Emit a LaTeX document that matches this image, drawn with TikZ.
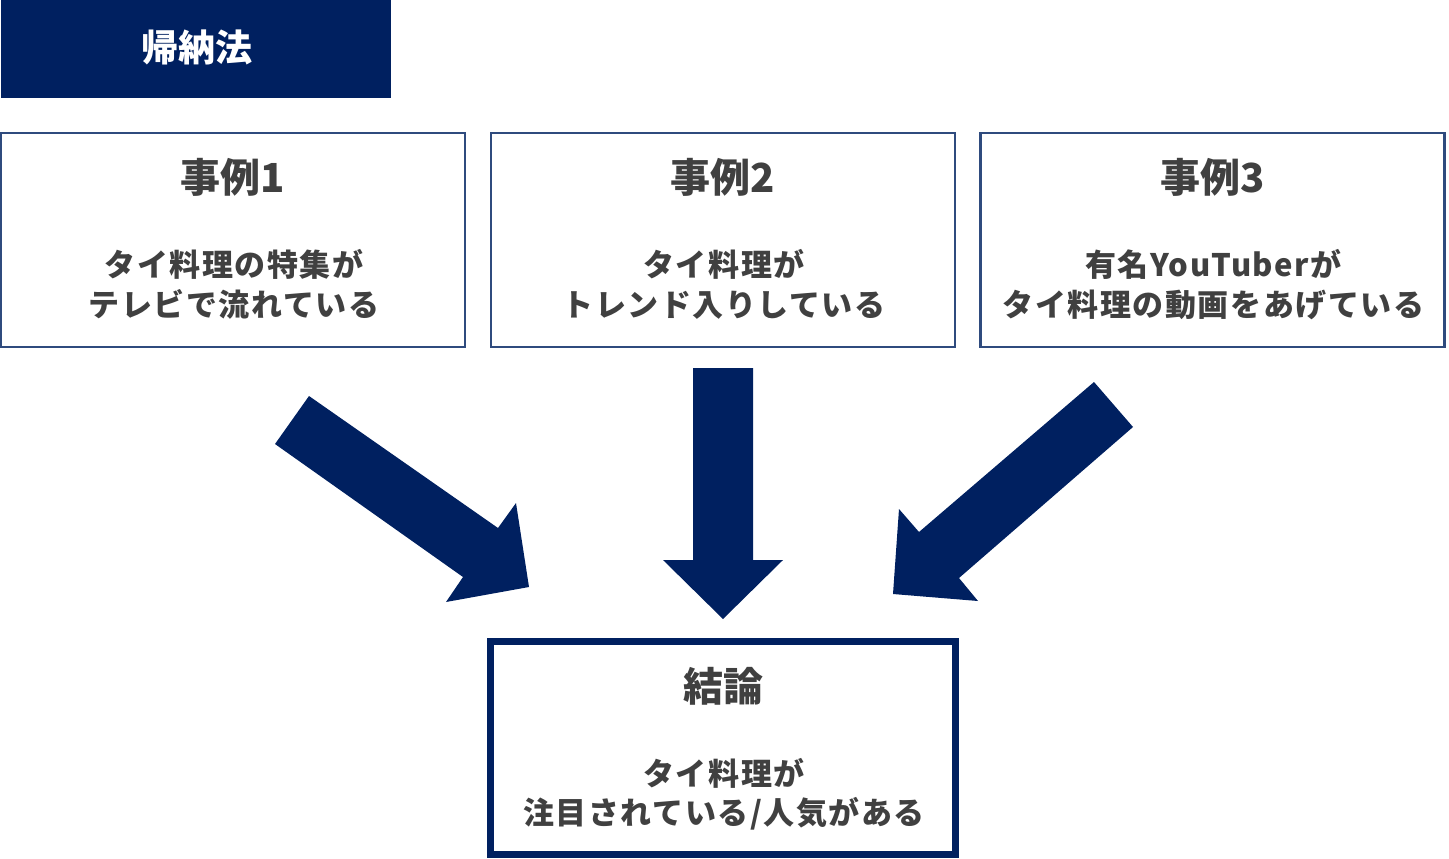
\documentclass[tikz,border=0pt]{standalone}
\usepackage{fontspec}
\setmainfont{Noto Sans CJK JP}
\newfontfamily\bodyfont{Noto Sans CJK JP}[LetterSpace=5]
\definecolor{navy}{HTML}{002060}
\definecolor{boxline}{HTML}{2F4B7E}
\definecolor{txt}{HTML}{404040}
\tikzset{
  casebox/.style={draw=boxline, line width=1.6pt, fill=none, minimum width=348pt, minimum height=160.5pt, inner sep=0pt},
  concbox/.style={draw=navy, line width=4.8pt, fill=none, minimum width=349pt, minimum height=160pt, inner sep=0pt},
  ttl/.style={anchor=base, inner sep=0pt, text=txt, font=\fontsize{30pt}{36pt}\selectfont\bfseries},
  body/.style={anchor=base, inner sep=0pt, text=txt, font=\fontsize{23.25pt}{30pt}\selectfont\bodyfont\bfseries},
  bigarrow/.style={fill=navy, draw=none}
}
\begin{document}
\begin{tikzpicture}[x=0.75pt, y=-0.75pt]
\useasboundingbox (0,0) rectangle (1449,858);
% title
\node[fill=navy, minimum width=292.5pt, minimum height=73.5pt, inner sep=0pt, anchor=north west] (head) at (1,0) {};
\node[anchor=base, inner sep=0pt, text=white, font=\fontsize{27.75pt}{33pt}\selectfont\bfseries] (headtxt) at (197,61) {帰納法};
% case boxes
\node[casebox] (c1) at (233,240) {};
\node[casebox] (c2) at (723,240) {};
\node[casebox] (c3) at (1212.5,240) {};
\node[ttl] (c1t) at (233,192) {事例1};
\node[ttl] (c2t) at (723,192) {事例2};
\node[ttl] (c3t) at (1212.5,192) {事例3};
\node[body] (c1a) at (234,276) {タイ料理の特集が};
\node[body] (c1b) at (234,316) {テレビで流れている};
\node[body] (c2a) at (724,276) {タイ料理が};
\node[body] (c2b) at (724,316) {トレンド入りしている};
\node[body] (c3a) at (1213.5,276) {有名YouTuberが};
\node[body] (c3b) at (1213.5,316) {タイ料理の動画をあげている};
% conclusion
\node[concbox] (k) at (723,748) {};
\node[ttl] (kt) at (723,701) {結論};
\node[body] (ka) at (724,785) {タイ料理が};
\node[body] (kb) at (724,824) {注目されている/人気がある};
% arrows
\fill[bigarrow] (309,396) -- (498,528) -- (516,503) -- (529,587) -- (446,602) -- (463,577) -- (275,444) -- cycle;
\fill[bigarrow] (693,368) -- (753,368) -- (753,560) -- (783,560) -- (723,619) -- (663,560) -- (693,560) -- cycle;
\fill[bigarrow] (1094,382) -- (1133,427) -- (959,578) -- (978,601) -- (893,594) -- (899,509) -- (919,532) -- cycle;
\end{tikzpicture}
\end{document}
